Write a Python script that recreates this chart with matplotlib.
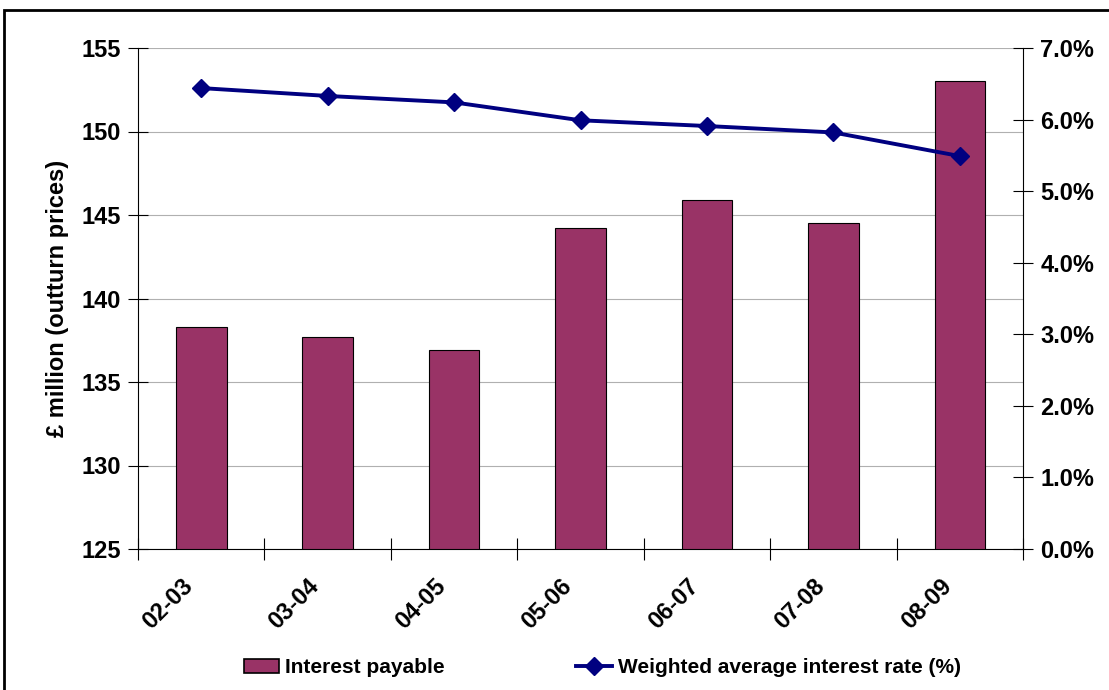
import numpy as np
import matplotlib.pyplot as plt
import matplotlib.transforms as mtransforms
from matplotlib.patches import Rectangle
from matplotlib.lines import Line2D
from matplotlib.ticker import FuncFormatter

plt.rcParams['font.family'] = ['Liberation Sans', 'DejaVu Sans']
plt.rcParams['font.weight'] = 'bold'

years = ["02-03", "03-04", "04-05", "05-06", "06-07", "07-08", "08-09"]
interest_payable = [138.3, 137.7, 136.9, 144.2, 145.9, 144.5, 153.0]
avg_rate = [6.44, 6.33, 6.24, 5.99, 5.91, 5.82, 5.49]

bar_col = "#993366"
line_col = "#000080"
fs = 17

fig = plt.figure(figsize=(11.09, 6.90), dpi=100)
ax = fig.add_axes([138/1109, 1-549/690, (1023-138)/1109, (549-48)/690])

x = np.arange(len(years))
ax.bar(x, [v - 125 for v in interest_payable], bottom=125, width=0.4,
       color=bar_col, edgecolor="black", linewidth=0.8, zorder=3)
ax.set_xlim(-0.5, len(years) - 0.5)
ax.set_ylim(125, 155)
ax.set_yticks(np.arange(125, 156, 5))
ax.yaxis.grid(True, color="#b0b0b0", linewidth=0.8, zorder=0)

# ticks between categories, labels under the bars
ax.set_xticks(np.arange(-0.5, len(years), 1.0))
ax.set_xticklabels([])
ax.set_xticks(x, minor=True)
ax.set_xticklabels(years, minor=True, rotation=45, ha="right", va="top",
                   rotation_mode="anchor", fontsize=fs, fontweight="bold")
ax.tick_params(axis="x", which="minor", length=0, pad=14)
ax.tick_params(axis="x", which="major", direction="inout", length=16, width=0.8)
ax.tick_params(axis="y", direction="inout", length=15, width=0.8, labelsize=fs, pad=5)
# nudge rotated labels (after tick_params, which resets transforms)
shift = mtransforms.ScaledTranslation(-20/100, -6/100, fig.dpi_scale_trans)
for lab in ax.get_xticklabels(minor=True):
    lab.set_transform(lab.get_transform() + shift)
for lab in ax.get_yticklabels():
    lab.set_fontweight("bold")
ax.spines["top"].set_visible(False)
ax.spines["right"].set_visible(False)
ax.spines["left"].set_linewidth(0.8)
ax.spines["bottom"].set_linewidth(0.8)
ax.set_ylabel("£ million (outturn prices)", fontsize=fs, fontweight="bold", labelpad=9)

ax2 = ax.twinx()
ax2.plot(x, avg_rate, color=line_col, linewidth=2.8, marker="D", markersize=9, zorder=4)
ax2.set_ylim(0, 7)
ax2.set_yticks(np.arange(0, 7.1, 1))
ax2.yaxis.set_major_formatter(FuncFormatter(lambda v, p: f"{v:.1f}%"))
ax2.tick_params(axis="y", direction="inout", length=15, width=0.8, labelsize=fs, pad=5)
for lab in ax2.get_yticklabels():
    lab.set_fontweight("bold")
for s in ["top", "left", "bottom"]:
    ax2.spines[s].set_visible(False)
ax2.spines["right"].set_linewidth(0.8)

handles = [Rectangle((0, 0), 1, 1, facecolor=bar_col, edgecolor="black", linewidth=1.2),
           Line2D([], [], color=line_col, linewidth=2.8, marker="D", markersize=9)]
fig.legend(handles, ["Interest payable", "Weighted average interest rate (%)"],
           loc="center", bbox_to_anchor=(0.543, 0.032), ncol=2, frameon=False,
           columnspacing=6.3, handlelength=1.7, handletextpad=0.3,
           prop={"weight": "bold", "size": 15})

fig.add_artist(Rectangle((4/1109, -0.1), 1.2, 1 - 10/690 + 0.1, transform=fig.transFigure,
                         fill=False, edgecolor="black", linewidth=2))

fig.savefig("out.png", dpi=100)
